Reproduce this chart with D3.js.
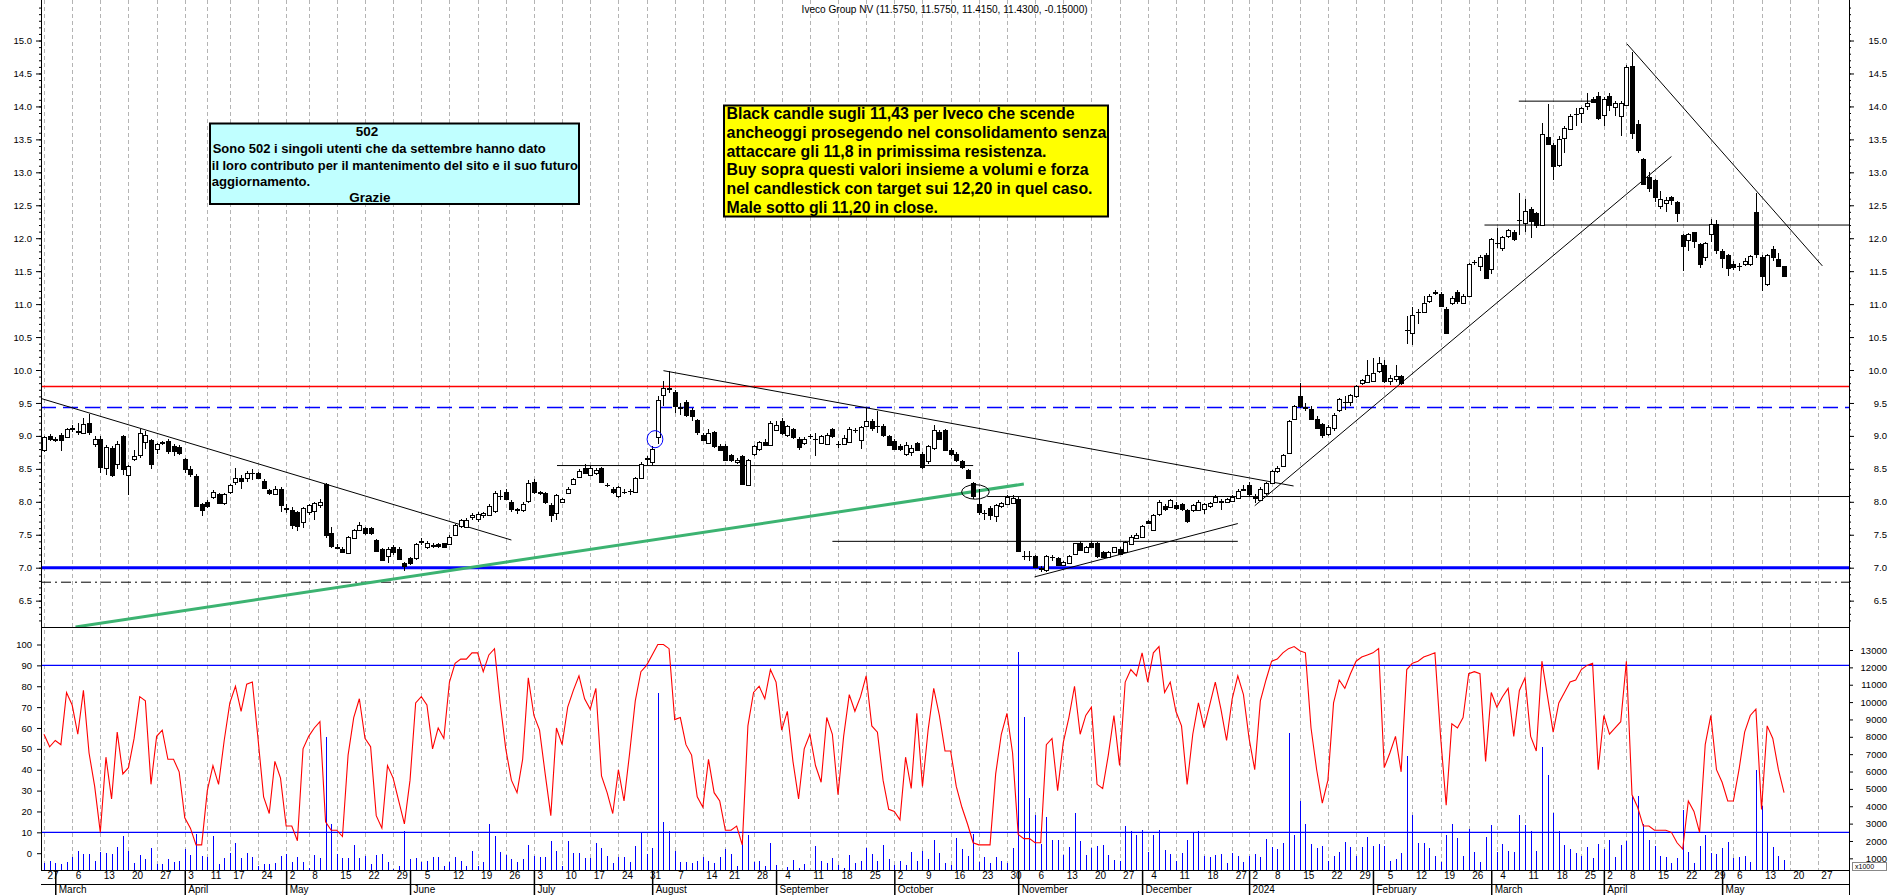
<!DOCTYPE html>
<html><head><meta charset="utf-8">
<script src="https://cdn.jsdelivr.net/npm/d3@7"></script>
<style>html,body{margin:0;padding:0;background:#fff;overflow:hidden}</style>
</head><body>
<svg id="chart" width="1890" height="895" xmlns="http://www.w3.org/2000/svg"></svg>
<script>
// ---------- DATA ----------
const startDate = "2023-02-27";
const endDate = "2024-06-03";
const holidays = ["2023-04-07","2023-04-10","2023-05-01","2023-08-15","2023-12-25","2023-12-26","2024-01-01","2024-03-29","2024-04-01","2024-05-01"];
const monthNames = ["January","February","March","April","May","June","July","August","September","October","November","December"];
const titleText = "Iveco Group NV (11.5750, 11.5750, 11.4150, 11.4300, -0.15000)";

const open = [
8.79,9.00,8.95,9.02,8.99,9.11,9.07,9.05,9.20,8.89,
8.95,8.51,8.82,8.58,9.00,8.41,8.66,8.70,8.91,8.94,
8.80,8.90,8.93,8.85,8.83,8.65,8.50,8.39,7.96,8.00,
8.07,8.12,7.98,8.14,8.30,8.36,8.35,8.44,8.43,8.32,
8.18,8.13,8.20,7.90,7.88,7.84,7.68,7.85,7.86,7.95,
8.27,7.53,7.32,7.29,7.23,7.45,7.57,7.60,7.60,7.42,
7.28,7.19,7.32,7.29,7.07,7.14,7.14,7.40,7.31,7.34,
7.36,7.37,7.37,7.50,7.63,7.63,7.77,7.74,7.80,7.80,
7.85,8.09,8.15,8.00,7.89,7.88,8.00,8.30,8.15,8.13,
7.95,7.82,8.00,8.14,8.27,8.38,8.51,8.41,8.44,8.51,
8.26,8.19,8.08,8.15,8.16,8.15,8.36,8.64,8.61,8.99,
9.62,9.72,9.66,9.44,9.52,9.40,9.24,9.01,8.90,9.06,
8.85,8.85,8.71,8.61,8.69,8.25,8.72,8.79,8.91,8.86,
9.10,9.22,9.01,9.10,8.96,8.90,9.00,8.96,8.90,8.89,
9.10,8.88,8.88,8.91,9.09,8.94,9.15,9.22,9.15,9.15,
9.00,8.93,8.84,8.73,8.76,8.89,8.73,8.61,8.81,9.06,
9.09,8.79,8.72,8.62,8.48,8.28,7.97,7.83,7.90,7.78,
7.93,7.97,7.98,8.05,7.17,7.17,7.18,7.00,6.96,7.16,
7.14,7.04,7.07,7.21,7.38,7.24,7.38,7.37,7.24,7.17,
7.24,7.29,7.24,7.37,7.45,7.47,7.71,7.57,7.81,7.93,
7.93,7.95,7.96,7.87,7.87,7.88,7.88,7.93,8.00,8.00,
8.00,8.02,8.07,8.18,8.25,8.08,8.03,8.13,8.29,8.47,
8.55,8.74,9.26,9.60,9.44,9.41,9.26,9.18,9.04,9.12,
9.39,9.52,9.51,9.61,9.80,9.83,9.84,9.98,10.07,9.84,
9.87,9.91,10.60,10.55,10.88,10.88,11.06,11.18,11.15,10.92,
11.02,11.19,11.02,11.13,11.64,11.57,11.75,11.53,11.93,11.86,
12.03,12.09,12.28,12.23,12.44,12.38,12.20,13.54,13.42,13.10,
13.52,13.67,13.88,13.90,14.00,14.12,14.16,13.86,14.16,13.99,
13.86,14.03,14.62,13.73,13.20,12.93,12.88,12.48,12.54,12.62,
12.55,12.05,11.97,12.09,11.91,11.70,12.06,12.21,11.81,11.74,
11.61,11.58,11.61,11.61,12.40,11.71,11.31,11.83,11.68,11.575];

const high = [
9.00,9.03,8.98,9.05,9.12,9.16,9.20,9.27,9.33,9.00,
9.00,8.86,8.85,8.93,9.01,8.56,8.78,9.11,9.08,8.96,
8.89,8.93,8.96,8.87,8.86,8.67,8.55,8.42,7.98,8.03,
8.18,8.14,8.14,8.27,8.52,8.40,8.47,8.50,8.45,8.34,
8.20,8.24,8.22,7.96,7.92,7.86,7.92,7.97,8.00,8.05,
8.28,7.62,7.36,7.31,7.48,7.58,7.70,7.62,7.62,7.44,
7.30,7.32,7.34,7.31,7.09,7.16,7.38,7.45,7.40,7.37,
7.38,7.38,7.49,7.66,7.74,7.75,7.83,7.85,7.84,7.96,
8.17,8.18,8.20,8.02,7.91,7.99,8.33,8.34,8.17,8.15,
7.98,8.12,8.06,8.22,8.36,8.50,8.57,8.54,8.52,8.53,
8.29,8.22,8.24,8.20,8.19,8.38,8.60,8.70,8.85,9.60,
9.84,9.99,9.70,9.50,9.55,9.42,9.26,9.05,9.10,9.08,
8.87,8.87,8.73,8.66,8.71,8.65,8.86,8.92,8.95,9.22,
9.22,9.27,9.17,9.12,8.98,8.98,9.03,9.05,9.02,9.05,
9.12,8.92,9.02,9.13,9.12,9.15,9.43,9.25,9.38,9.18,
9.02,8.96,8.88,8.90,8.86,8.91,8.75,8.86,9.16,9.09,
9.11,8.81,8.76,8.64,8.50,8.30,8.20,7.88,7.93,7.96,
8.00,8.10,8.10,8.07,7.25,7.25,7.20,7.03,7.19,7.20,
7.16,7.10,7.20,7.38,7.40,7.33,7.40,7.39,7.26,7.26,
7.32,7.31,7.41,7.49,7.52,7.65,7.73,7.82,8.03,7.97,
8.05,7.99,7.98,7.89,7.97,8.02,7.98,8.00,8.10,8.04,
8.06,8.10,8.19,8.26,8.30,8.12,8.22,8.30,8.49,8.55,
8.73,9.24,9.47,9.80,9.50,9.45,9.30,9.20,9.16,9.35,
9.58,9.60,9.64,9.78,9.87,10.15,10.18,10.20,10.15,9.92,
10.08,9.93,10.82,10.95,10.92,11.12,11.15,11.22,11.18,10.95,
11.12,11.22,11.15,11.63,11.67,11.74,11.77,12.00,12.15,12.04,
12.14,12.12,12.68,12.60,12.47,12.40,13.75,14.03,13.45,13.55,
13.70,13.88,13.98,13.99,14.20,14.15,14.22,14.15,14.20,14.08,
14.08,14.63,14.82,13.80,13.22,13.00,12.90,12.72,12.62,12.64,
12.57,12.07,12.08,12.10,11.93,11.95,12.29,12.28,11.83,11.76,
11.65,11.62,11.70,11.75,12.68,11.75,11.76,11.88,11.78,11.575];

const low = [
8.76,8.92,8.90,8.77,8.97,9.06,9.02,9.03,9.02,8.83,
8.43,8.40,8.37,8.50,8.40,8.11,8.62,8.66,8.80,8.50,
8.72,8.86,8.73,8.70,8.71,8.44,8.38,7.92,7.79,7.91,
8.05,7.96,7.95,8.12,8.25,8.20,8.30,8.33,8.34,8.20,
8.10,8.10,7.85,7.83,7.58,7.55,7.60,7.80,7.72,7.90,
7.45,7.30,7.28,7.22,7.21,7.44,7.55,7.50,7.49,7.24,
7.10,7.07,7.20,7.12,6.95,7.04,7.12,7.35,7.28,7.30,
7.30,7.30,7.35,7.48,7.60,7.60,7.72,7.70,7.75,7.78,
7.83,8.02,8.02,7.84,7.82,7.84,7.98,8.12,8.10,7.97,
7.70,7.73,7.98,8.12,8.25,8.36,8.42,8.40,8.40,8.28,
8.22,8.12,8.06,8.12,8.10,8.13,8.34,8.56,8.55,8.88,
9.45,9.65,9.35,9.32,9.28,9.22,9.02,8.92,8.88,8.82,
8.77,8.62,8.60,8.58,8.26,8.24,8.70,8.77,8.85,8.84,
9.08,9.02,8.98,8.96,8.78,8.86,8.95,8.70,8.88,8.87,
8.97,8.82,8.86,8.89,9.04,8.80,9.13,9.08,9.05,8.98,
8.84,8.79,8.77,8.70,8.70,8.77,8.50,8.58,8.79,8.94,
8.77,8.70,8.60,8.50,8.34,8.05,7.80,7.72,7.72,7.70,
7.90,7.95,7.96,7.24,7.12,7.10,7.00,6.93,6.94,7.10,
7.02,7.02,7.05,7.19,7.25,7.22,7.30,7.15,7.14,7.15,
7.22,7.19,7.22,7.35,7.43,7.45,7.66,7.55,7.79,7.86,
7.91,7.88,7.86,7.68,7.85,7.86,7.82,7.91,7.98,7.88,
7.98,8.00,8.05,8.16,8.08,7.98,8.01,8.11,8.27,8.44,
8.53,8.72,9.24,9.42,9.38,9.24,9.10,8.97,9.00,9.08,
9.36,9.40,9.45,9.58,9.77,9.80,9.82,9.96,9.80,9.78,
9.82,9.78,10.40,10.38,10.70,10.86,11.02,11.14,10.95,10.55,
10.98,11.00,11.00,11.11,11.60,11.50,11.38,11.45,11.85,11.80,
12.00,11.96,12.05,12.10,12.00,12.15,12.18,13.42,12.88,13.08,
13.30,13.64,13.70,13.75,13.95,14.06,13.80,13.70,13.93,13.85,
13.55,14.00,13.50,13.30,12.80,12.70,12.55,12.45,12.40,12.50,
12.25,11.50,11.80,11.85,11.55,11.65,11.95,11.76,11.55,11.42,
11.52,11.50,11.58,11.58,11.70,11.20,11.28,11.65,11.56,11.415];

const close = [
8.98,8.95,8.94,8.95,9.11,9.12,9.06,9.18,9.06,8.96,
8.52,8.83,8.41,8.88,8.50,8.55,8.70,9.04,9.02,8.57,
8.87,8.89,8.78,8.78,8.74,8.50,8.42,7.94,7.87,7.94,
8.15,7.98,8.12,8.25,8.36,8.31,8.43,8.44,8.36,8.22,
8.13,8.20,7.95,7.91,7.65,7.63,7.90,7.95,7.98,7.99,
7.50,7.34,7.31,7.24,7.47,7.57,7.65,7.52,7.52,7.26,
7.12,7.29,7.24,7.14,7.02,7.07,7.36,7.41,7.37,7.35,
7.33,7.31,7.47,7.65,7.72,7.73,7.80,7.82,7.83,7.94,
8.13,8.09,8.04,7.89,7.87,7.97,8.28,8.15,8.14,7.99,
7.80,8.10,8.04,8.20,8.34,8.47,8.44,8.51,8.48,8.30,
8.26,8.15,8.22,8.15,8.16,8.36,8.58,8.66,8.80,9.55,
9.72,9.73,9.44,9.42,9.33,9.31,9.06,8.94,9.05,8.84,
8.79,8.64,8.63,8.64,8.27,8.63,8.84,8.90,8.87,9.19,
9.17,9.04,9.15,8.98,8.84,8.96,9.00,8.96,9.00,9.02,
8.99,8.88,8.97,9.11,9.09,9.13,9.22,9.11,9.15,9.01,
8.86,8.81,8.79,8.86,8.82,8.79,8.53,8.84,9.09,8.96,
8.79,8.73,8.63,8.53,8.36,8.08,7.85,7.83,7.80,7.95,
7.98,8.08,8.06,7.26,7.17,7.17,7.02,6.99,7.17,7.16,
7.04,7.09,7.18,7.37,7.27,7.31,7.32,7.17,7.16,7.24,
7.31,7.21,7.39,7.47,7.50,7.63,7.68,7.80,7.99,7.88,
8.03,7.90,7.88,7.70,7.95,8.00,7.96,7.98,8.08,8.01,
8.04,8.08,8.17,8.19,8.12,8.07,8.20,8.28,8.47,8.52,
8.71,9.22,9.45,9.45,9.43,9.26,9.12,9.01,9.14,9.32,
9.56,9.52,9.62,9.76,9.85,9.93,9.96,10.10,9.82,9.88,
9.91,9.80,10.60,10.83,10.88,11.02,11.13,11.19,10.97,10.56,
11.09,11.05,11.13,11.61,11.64,11.71,11.40,11.99,11.93,12.02,
12.12,11.98,12.28,12.41,12.26,12.20,13.58,13.44,13.10,13.50,
13.67,13.86,13.88,13.97,14.05,14.08,13.83,14.11,14.03,14.05,
14.05,14.60,13.60,13.34,12.82,12.77,12.62,12.59,12.58,12.58,
12.39,11.89,12.06,11.95,11.61,11.92,12.21,11.82,11.70,11.54,
11.56,11.58,11.65,11.73,11.76,11.42,11.75,11.71,11.58,11.43];

const oscillator = [
57,51,54,52,77,71,57,78,48,32,
10,46,26,58,38,41,55,75,73,33,
56,59,45,45,39,17,12,4,4,30,
42,33,54,72,80,68,81,82,55,27,
19,44,36,13,13,6,50,56,60,63,
15,11,11,8,47,65,74,55,51,18,
12,42,36,25,14,35,72,75,71,50,
60,55,82,91,93,93,96,96,87,95,
98,72,50,35,29,45,84,66,59,38,
18,60,52,70,78,85,74,69,79,37,
29,19,40,25,48,73,87,90,95,100,
100,98,64,65,52,47,27,22,45,29,
25,11,11,13,4,61,77,80,74,88,
82,59,68,44,26,50,57,42,34,65,
57,28,56,76,68,75,85,61,58,35,
21,20,16,46,31,67,32,59,79,66,
49,49,32,22,14,5,4,4,4,38,
57,67,48,9,7,7,5,5,52,55,
30,53,65,80,57,66,70,33,31,47,
66,42,82,88,85,96,82,96,99,77,
82,68,61,33,57,72,60,71,82,69,
54,74,85,76,55,40,73,83,92,93,
96,98,99,97,96,60,40,24,35,72,
83,79,86,92,94,95,96,98,41,48,
56,39,88,91,92,94,95,96,56,23,
62,60,65,86,87,86,44,77,70,75,
79,56,78,84,56,49,92,75,58,72,
77,82,83,88,90,91,40,66,57,60,
63,92,28,22,13,13,11,11,11,10,
5,2,25,20,10,52,66,40,34,25,
25,40,58,66,69,21,61,55,40,29];

const volume = [
760,870,720,660,770,1070,1410,1240,1240,870,
1350,1310,1240,1640,2280,1410,760,1200,970,1620,
660,660,970,810,870,1510,1200,2430,1140,1070,
2280,660,1010,1330,1910,1010,1330,1050,530,660,
660,720,1140,1260,770,1070,770,450,1200,1010,
8000,3000,1260,1010,1010,1780,1010,1160,660,1200,
1260,770,370,530,2600,950,1010,810,870,1050,
1070,560,770,1070,870,530,1450,530,810,2990,
2280,1350,1200,950,810,950,1780,1160,1070,1070,
1970,1410,530,1970,1330,1330,1030,1030,1870,1580,
1160,720,1070,1070,770,1700,2450,1260,1580,10550,
3090,2570,1450,770,810,740,830,1100,830,740,
1070,1510,1240,540,2370,2370,810,870,540,1870,
620,290,480,930,430,680,350,1700,830,710,
1010,620,430,1200,710,870,1580,1240,830,1780,
970,620,830,620,1350,870,1450,970,2030,1330,
740,620,2160,1510,1120,2410,810,1070,740,1070,
830,740,1580,12900,9150,4470,3470,1800,3370,2030,
2080,1200,1640,3600,1990,1200,1580,1700,1780,1200,
930,870,2850,2570,2370,2660,1390,2370,2660,1490,
1260,870,1330,2030,2510,2570,1160,1070,1200,1240,
740,1300,1160,770,1120,1260,1070,2130,1640,1550,
1890,8200,2350,4300,3000,1830,1580,1700,870,1120,
1350,1930,1640,1120,1640,2220,1700,1830,1700,830,
970,1300,6900,3500,1890,1890,1580,1160,770,2370,
3000,2160,1160,2700,1350,810,2220,2900,1350,1830,
1450,1350,3500,2900,2600,1410,7400,5800,3600,2600,
1780,1550,1330,1160,1640,1010,1830,1550,2030,1070,
1780,1990,4600,4600,3000,2060,1700,1120,1070,740,
1010,3800,1350,740,1700,2370,1330,1260,1580,1930,
1030,1070,1160,770,6100,4000,2500,1640,1120,900];

const priceTicks = [6.5,7.0,7.5,8.0,8.5,9.0,9.5,10.0,10.5,11.0,11.5,12.0,12.5,13.0,13.5,14.0,14.5,15.0];
const oscTicks = [0,10,20,30,40,50,60,70,80,90,100];
const volTicks = [1000,2000,3000,4000,5000,6000,7000,8000,9000,10000,11000,12000,13000];
const oscLevels = [10, 90];

// horizontal levels spanning whole panel
const redLevel = 9.75, blueDashLevel = 9.43, blueLevel = 7.0, dashDotLevel = 6.78;
// drawn segments in (trading-day index, price)
const blackSegments = [
  {i1:-0.6, p1:9.57, i2:83.0, p2:7.42},
  {i1:110.0, p1:9.99, i2:221.9, p2:8.24},
  {i1:175.9, p1:6.86, i2:212.0, p2:7.67},
  {i1:215.0, p1:7.94, i2:289.0, p2:13.24},
  {i1:281.1, p1:14.95, i2:315.8, p2:11.58},
  {i1:261.9, p1:14.08, i2:275.5, p2:14.08},
  {i1:255.8, p1:12.2, i2:321, p2:12.2},
  {i1:167.5, p1:8.08, i2:321, p2:8.08},
  {i1:91.1, p1:8.55, i2:165.0, p2:8.55},
  {i1:140.0, p1:7.40, i2:212.0, p2:7.40}
];
const greenSegment = {i1:5.6, p1:6.10, i2:174.0, p2:8.27};
const ellipses = [
  {i:108.5, p:8.95, ri:1.4, rp:0.13, color:"#0000ff"},
  {i:165.4, p:8.15, ri:2.45, rp:0.11, color:"#000000"}
];
const yellowNote = ["Black candle sugli 11,43 per Iveco che scende",
  "ancheoggi prosegendo nel consolidamento senza",
  "attaccare gli 11,8 in primissima resistenza.",
  "Buy sopra questi valori insieme a volumi e forza",
  "nel candlestick con target sui 12,20 in quel caso.",
  "Male sotto gli 11,20 in close."];
const cyanNote = ["502",
  "Sono 502 i singoli utenti che da settembre hanno dato",
  "il loro contributo per il mantenimento del sito e il suo futuro",
  "aggiornamento.",
  "Grazie"];

// ---------- DATES ----------
const hol = new Set(holidays);
const days = [];
for (let d = new Date(startDate + "T00:00:00Z"); d <= new Date(endDate + "T00:00:00Z"); d.setUTCDate(d.getUTCDate() + 1)) {
  const wd = d.getUTCDay();
  if (wd === 0 || wd === 6) continue;
  const s = d.toISOString().slice(0, 10);
  if (hol.has(s)) continue;
  days.push(new Date(d));
}
const weekStarts = [], monthStarts = [];
days.forEach((d, i) => {
  if (i === 0) { weekStarts.push(i); return; }
  const p = days[i - 1];
  if (d.getUTCDay() < p.getUTCDay() || (d - p) >= 7 * 864e5) weekStarts.push(i);
  if (d.getUTCMonth() !== p.getUTCMonth()) monthStarts.push(i);
});

// ---------- LAYOUT ----------
const FONT = "'Liberation Sans', Arial, sans-serif";
const AX_L = 41, AX_R = 1849, P_TOP = 0, P_BOT = 627, O_BOT = 870;
const svg = d3.select("#chart");
svg.append("rect").attr("width", 1890).attr("height", 895).attr("fill", "#fff");

const x = d3.scaleLinear().domain([0, 320]).range([44, 1846]);
const yP = d3.scaleLinear().domain([6.1, 15.615]).range([P_BOT, P_TOP]);
const yO = d3.scaleLinear().domain([0, 100]).range([853.2, 644.5]);
const yV = d3.scaleLinear().domain([0, 13000]).range([875.7, 650]);
const cx = i => Math.round(x(i)) + 0.5;

const defs = svg.append("defs");
defs.append("clipPath").attr("id", "clipP").append("rect").attr("x", AX_L).attr("y", P_TOP).attr("width", AX_R - AX_L).attr("height", P_BOT - P_TOP);
defs.append("clipPath").attr("id", "clipO").append("rect").attr("x", AX_L).attr("y", P_BOT).attr("width", AX_R - AX_L).attr("height", O_BOT - P_BOT);

// week gridlines
svg.append("g").selectAll("line").data(weekStarts.filter(i => i < 320)).join("line")
  .attr("x1", i => cx(i)).attr("x2", i => cx(i)).attr("y1", 0).attr("y2", O_BOT)
  .attr("stroke", "#b4b4b4").attr("stroke-width", 1).attr("stroke-dasharray", "4,3");

// ---------- PRICE PANEL ----------
const gP = svg.append("g").attr("clip-path", "url(#clipP)");
const hline = (v, color, w, dash) => gP.append("line").attr("x1", AX_L).attr("x2", AX_R)
  .attr("y1", yP(v)).attr("y2", yP(v)).attr("stroke", color).attr("stroke-width", w)
  .attr("stroke-dasharray", dash || null);
hline(redLevel, "#ff0000", 1.5);
hline(blueDashLevel, "#0000ff", 1.5, "15,7");
hline(blueLevel, "#0000ff", 3);
hline(dashDotLevel, "#000000", 1, "10,4,2,4");

gP.append("line").attr("x1", x(greenSegment.i1)).attr("y1", yP(greenSegment.p1))
  .attr("x2", x(greenSegment.i2)).attr("y2", yP(greenSegment.p2))
  .attr("stroke", "#3cb371").attr("stroke-width", 3);

gP.append("g").selectAll("line").data(blackSegments).join("line")
  .attr("x1", d => x(d.i1)).attr("y1", d => yP(d.p1)).attr("x2", d => x(d.i2)).attr("y2", d => yP(d.p2))
  .attr("stroke", "#000").attr("stroke-width", 1);

// candles
const candles = d3.range(close.length).map(i => ({i, o: open[i], h: high[i], l: low[i], c: close[i]}));
const gC = gP.append("g").attr("shape-rendering", "crispEdges");
gC.selectAll("line.w").data(candles).join("line").attr("class", "w")
  .attr("x1", d => cx(d.i)).attr("x2", d => cx(d.i)).attr("y1", d => yP(d.h)).attr("y2", d => yP(d.l))
  .attr("stroke", "#000").attr("stroke-width", 1);
gC.selectAll("rect").data(candles).join("rect")
  .attr("x", d => cx(d.i) - 2).attr("width", 4)
  .attr("y", d => Math.round(yP(Math.max(d.o, d.c))) + 0.5)
  .attr("height", d => Math.max(0.01, Math.round(Math.abs(yP(d.o) - yP(d.c)))))
  .attr("fill", d => d.c >= d.o ? "#fff" : "#000").attr("stroke", "#000").attr("stroke-width", 1);

gP.append("g").selectAll("ellipse").data(ellipses).join("ellipse")
  .attr("cx", d => x(d.i)).attr("cy", d => yP(d.p))
  .attr("rx", d => x(d.i + d.ri) - x(d.i)).attr("ry", d => yP(d.p - d.rp) - yP(d.p))
  .attr("fill", "none").attr("stroke", d => d.color).attr("stroke-width", 1);

// panel separator
svg.append("line").attr("x1", AX_L).attr("x2", AX_R).attr("y1", P_BOT + 0.5).attr("y2", P_BOT + 0.5)
  .attr("stroke", "#000").attr("stroke-width", 1.2);

// ---------- OSCILLATOR / VOLUME PANEL ----------
const gO = svg.append("g").attr("clip-path", "url(#clipO)");
gO.append("g").attr("shape-rendering", "crispEdges").selectAll("line").data(volume).join("line")
  .attr("x1", (v, i) => cx(i)).attr("x2", (v, i) => cx(i)).attr("y1", O_BOT).attr("y2", v => yV(v))
  .attr("stroke", "#0000ff").attr("stroke-width", 1);
gO.append("g").selectAll("line").data(oscLevels).join("line")
  .attr("x1", AX_L).attr("x2", AX_R).attr("y1", v => yO(v)).attr("y2", v => yO(v))
  .attr("stroke", "#0000ff").attr("stroke-width", 1.2);
gO.append("path").datum(oscillator)
  .attr("d", d3.line().x((v, i) => x(i)).y(v => yO(v)))
  .attr("fill", "none").attr("stroke", "#ff0000").attr("stroke-width", 1.1);

// ---------- AXES ----------
function styleAxis(g, anchor, dx) {
  g.select(".domain").remove();
  g.selectAll(".tick line").attr("stroke", "#000");
  g.selectAll(".tick text").attr("font-family", FONT).attr("font-size", 9.5).attr("fill", "#000")
    .attr("text-anchor", anchor).attr("x", dx);
}
const minorP = d3.range(62, 156).map(v => v / 10);
svg.append("g").attr("transform", `translate(${AX_L},0)`)
  .call(d3.axisLeft(yP).tickValues(minorP).tickSize(2).tickFormat(""))
  .call(g => g.select(".domain").remove()).selectAll("line").attr("stroke", "#000");
svg.append("g").attr("transform", `translate(${AX_L},0)`)
  .call(d3.axisLeft(yP).tickValues(priceTicks).tickSize(5).tickFormat(d3.format(".1f")))
  .call(g => styleAxis(g, "end", -9));
svg.append("g").attr("transform", `translate(${AX_R},0)`)
  .call(d3.axisRight(yP).tickValues(minorP).tickSize(2).tickFormat(""))
  .call(g => g.select(".domain").remove()).selectAll("line").attr("stroke", "#000");
svg.append("g").attr("transform", `translate(${AX_R},0)`)
  .call(d3.axisRight(yP).tickValues(priceTicks).tickSize(5).tickFormat(d3.format(".1f")))
  .call(g => styleAxis(g, "end", 38));
svg.append("g").attr("transform", `translate(${AX_L},0)`)
  .call(d3.axisLeft(yO).tickValues(oscTicks).tickSize(4).tickFormat(d3.format("d")))
  .call(g => styleAxis(g, "end", -9));
svg.append("g").attr("transform", `translate(${AX_R},0)`)
  .call(d3.axisRight(yV).tickValues(volTicks).tickSize(4).tickFormat(d3.format("d")))
  .call(g => styleAxis(g, "end", 38));

// axis lines
svg.append("line").attr("x1", AX_L + 0.5).attr("x2", AX_L + 0.5).attr("y1", 0).attr("y2", O_BOT).attr("stroke", "#000");
svg.append("line").attr("x1", AX_R + 0.5).attr("x2", AX_R + 0.5).attr("y1", 0).attr("y2", 895).attr("stroke", "#000");
svg.append("line").attr("x1", AX_L).attr("x2", AX_R).attr("y1", O_BOT + 0.5).attr("y2", O_BOT + 0.5).attr("stroke", "#000").attr("stroke-width", 1.2);
svg.append("line").attr("x1", AX_L).attr("x2", AX_R).attr("y1", 884.5).attr("y2", 884.5).attr("stroke", "#000");

// x1000 box (below the 1000 label)
svg.append("rect").attr("x", 1852.5).attr("y", 862.5).attr("width", 34).attr("height", 8)
  .attr("fill", "#fff").attr("stroke", "#888");
svg.append("text").attr("x", 1855).attr("y", 869).attr("font-family", FONT).attr("font-size", 7).text("x1000");

// date axis (first trading day of each week)
const gD = svg.append("g").attr("transform", `translate(0,${O_BOT})`)
  .call(d3.axisBottom(x).tickValues(weekStarts.filter(i => i < 316)).tickSize(0).tickFormat(i => days[i].getUTCDate()));
gD.select(".domain").remove();
gD.selectAll(".tick text").attr("font-family", FONT).attr("font-size", 10).attr("fill", "#000")
  .attr("text-anchor", "start").attr("x", 3).attr("y", 2).attr("dy", "0.71em");

// month axis
const gM = svg.append("g").attr("transform", `translate(0,${O_BOT})`)
  .call(d3.axisBottom(x).tickValues(monthStarts.filter(i => i < 316)).tickSize(25)
    .tickFormat(i => days[i].getUTCMonth() === 0 ? String(days[i].getUTCFullYear()) : monthNames[days[i].getUTCMonth()]));
gM.select(".domain").remove();
gM.selectAll(".tick line").attr("stroke", "#000").attr("stroke-width", 1.5);
gM.selectAll(".tick text").attr("font-family", FONT).attr("font-size", 10).attr("fill", "#000")
  .attr("text-anchor", "start").attr("x", 3).attr("y", 16).attr("dy", "0.71em");

// ---------- TEXTS ----------
svg.append("text").attr("x", 801.6).attr("y", 13).attr("font-family", FONT).attr("font-size", 10)
  .attr("textLength", 286).attr("lengthAdjust", "spacingAndGlyphs").attr("fill", "#000").text(titleText);

// yellow note
svg.append("rect").attr("x", 724).attr("y", 105.5).attr("width", 384).attr("height", 111)
  .attr("fill", "#ffff00").attr("stroke", "#000").attr("stroke-width", 2);
const yBase = [119.3, 138, 156.7, 175.4, 194, 212.7];
const yLen = [348, 380, 320, 362, 366, 211.5];
svg.append("g").selectAll("text").data(yellowNote).join("text")
  .attr("x", 726.5).attr("y", (d, k) => yBase[k]).attr("textLength", (d, k) => yLen[k])
  .attr("lengthAdjust", "spacingAndGlyphs").attr("font-family", FONT).attr("font-weight", "bold")
  .attr("font-size", 16).attr("fill", "#000").text(d => d);

// cyan note
svg.append("rect").attr("x", 210).attr("y", 123.5).attr("width", 369).attr("height", 80.5)
  .attr("fill", "#c0ffff").attr("stroke", "#000").attr("stroke-width", 2);
const cBase = [136, 152.5, 169.5, 186, 202];
const cX = [367, 212.7, 211.8, 211.8, 370];
const cAnchor = ["middle", "start", "start", "start", "middle"];
const cLen = [null, 333, 366, 98.4, null];
svg.append("g").selectAll("text").data(cyanNote).join("text")
  .attr("x", (d, k) => cX[k]).attr("y", (d, k) => cBase[k]).attr("text-anchor", (d, k) => cAnchor[k])
  .attr("textLength", (d, k) => cLen[k]).attr("lengthAdjust", "spacingAndGlyphs")
  .attr("font-family", FONT).attr("font-weight", "bold").attr("font-size", 13.5).attr("fill", "#000")
  .text(d => d);
</script>
</body></html>
